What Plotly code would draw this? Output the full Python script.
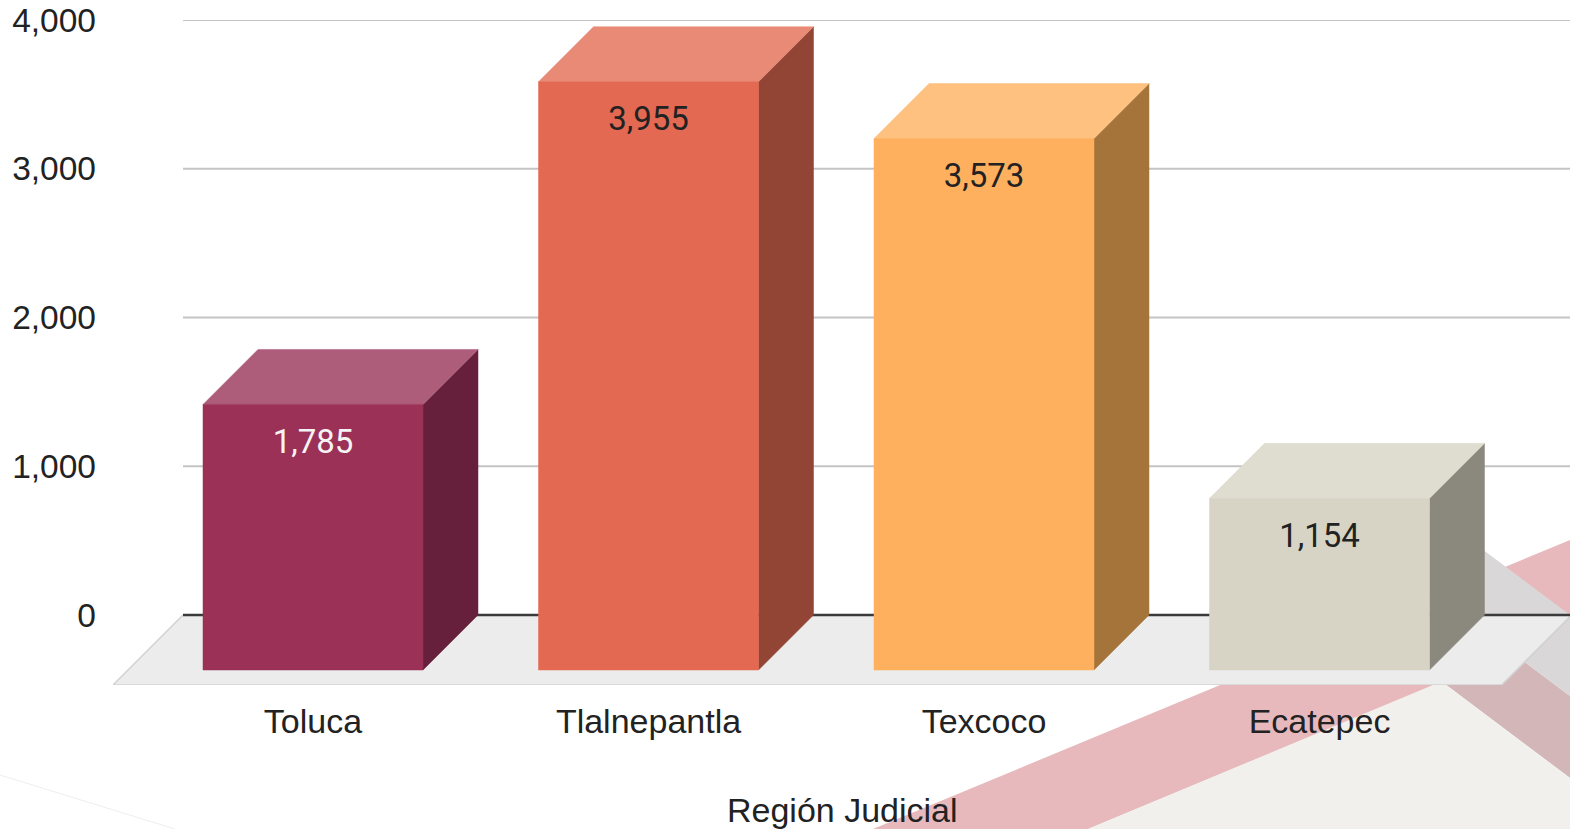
import plotly.graph_objects as go

# ---------------- data ----------------
categories = ["Toluca", "Tlalnepantla", "Texcoco", "Ecatepec"]
values = [1785, 3955, 3573, 1154]
y_ticks = [0, 1000, 2000, 3000, 4000]
axis_title = "Región Judicial"

# ---------------- styles ----------------
front_colors = ["#9b3157", "#e36952", "#feb05e", "#d7d4c6"]
top_colors = ["#ad5c79", "#e98a76", "#fec17f", "#dfdcd0"]
side_colors = ["#66203b", "#924535", "#a5743a", "#8b897e"]
label_colors = ["#f4f4f4", "#222222", "#222222", "#222222"]

W, H = 1570, 829
PLOT_L, PLOT_R, PLOT_T, PLOT_B = 113, 1570, 20, 685
ZERO_PX = 615
CAT_STEP_PX = 335.5
CAT0_PX = 368           # back-face centre of first category
BAR_HALF_PX = 110
BAR_DEPTH_PX = 55
FLOOR_DEPTH_PX = 70
LABEL_DROP_PX = 40

ky = (ZERO_PX - PLOT_T) / max(y_ticks)        # px per data unit
y_min = -(PLOT_B - ZERO_PX) / ky
y_max = max(y_ticks)
x_min = (PLOT_L - CAT0_PX) / CAT_STEP_PX
x_max = (PLOT_R - CAT0_PX) / CAT_STEP_PX

hw = BAR_HALF_PX / CAT_STEP_PX
dx = -BAR_DEPTH_PX / CAT_STEP_PX
dy = BAR_DEPTH_PX / ky
fdx = -FLOOR_DEPTH_PX / CAT_STEP_PX
fdy = FLOOR_DEPTH_PX / ky
floor_x0 = x_min - fdx          # back-left corner of floor
floor_x1 = x_max + 0.005

fig = go.Figure()

# --- decorative background (slide design) in paper coords ---
def P(pts):
    path = ""
    for i, (px, py) in enumerate(pts):
        path += ("M" if i == 0 else "L") + f"{px / W:.5f},{1 - py / H:.5f} "
    return path + "Z"

deco = [
    ([(873, 829), (1570, 540), (1570, 629), (1088, 829)], "#e7b9bd"),
    ([(1352, 614), (1391, 562), (1570, 696), (1570, 778)], "#d3b6b8"),
    ([(1391, 562), (1430, 510), (1570, 615), (1570, 696)], "#d9d7d7"),
    ([(1088, 829), (1433, 685), (1446, 685), (1570, 778), (1570, 829)], "#f2f0ec"),
]
shapes = []
for pts, col in deco:
    shapes.append(dict(type="path", path=P(pts), xref="paper", yref="paper",
                       fillcolor=col, line=dict(width=0), layer="below"))
shapes.append(dict(type="line", xref="paper", yref="paper", x0=0, y0=1 - 775 / H,
                   x1=175 / W, y1=0, line=dict(color="#eeeeee", width=1), layer="below"))

# --- gridlines ---
for t in y_ticks[1:]:
    fig.add_trace(go.Scatter(x=[floor_x0, x_max], y=[t, t], mode="lines",
                             line=dict(color="#c4c4c4", width=2), hoverinfo="skip"))

# --- floor ---
fig.add_trace(go.Scatter(
    x=[floor_x0, floor_x1, floor_x1 + fdx, floor_x0 + fdx, floor_x0],
    y=[0, 0, -fdy, -fdy, 0], mode="lines", fill="toself",
    fillcolor="#ececec", line=dict(color="#d2d2d2", width=1.5), hoverinfo="skip"))

# --- zero line ---
fig.add_trace(go.Scatter(x=[floor_x0, x_max], y=[0, 0], mode="lines",
                         line=dict(color="#3a3a3a", width=2.5), hoverinfo="skip"))

# --- 3D bars ---
for i, v in enumerate(values):
    c = i
    # side face
    fig.add_trace(go.Scatter(
        x=[c + hw, c + hw, c + hw + dx, c + hw + dx, c + hw],
        y=[v, 0, -dy, v - dy, v], mode="lines", fill="toself",
        fillcolor=side_colors[i], line=dict(color=side_colors[i], width=0.5),
        hoverinfo="skip"))
    # top face
    fig.add_trace(go.Scatter(
        x=[c - hw, c + hw, c + hw + dx, c - hw + dx, c - hw],
        y=[v, v, v - dy, v - dy, v], mode="lines", fill="toself",
        fillcolor=top_colors[i], line=dict(color=top_colors[i], width=0.5),
        hoverinfo="skip"))
    # front face
    fig.add_trace(go.Scatter(
        x=[c - hw + dx, c + hw + dx, c + hw + dx, c - hw + dx, c - hw + dx],
        y=[v - dy, v - dy, -dy, -dy, v - dy], mode="lines", fill="toself",
        fillcolor=front_colors[i], line=dict(color=front_colors[i], width=0.5),
        hoverinfo="skip"))

# --- value labels ---
fig.add_trace(go.Scatter(
    x=[i + dx for i in range(len(values))],
    y=[v - dy - LABEL_DROP_PX / ky for v in values],
    mode="text", text=[f"{v:,}" for v in values],
    textposition="middle center",
    textfont=dict(family="Roboto", size=33, color=label_colors),
    hoverinfo="skip"))

fig.update_layout(
    width=W, height=H,
    margin=dict(l=0, r=0, t=0, b=0),
    paper_bgcolor="white", plot_bgcolor="rgba(0,0,0,0)",
    showlegend=False,
    shapes=shapes,
    font=dict(family="Liberation Sans, Arial", color="#222222"),
    xaxis=dict(domain=[PLOT_L / W, 1], range=[x_min, x_max],
               tickvals=[i + dx for i in range(len(categories))], ticktext=categories,
               showgrid=False, zeroline=False, showline=False, ticks="",
               tickfont=dict(size=34, family="Liberation Sans, Arial", color="#222222"),
               ticklabelstandoff=13, automargin=False, fixedrange=True),
    yaxis=dict(domain=[1 - PLOT_B / H, 1 - PLOT_T / H], range=[y_min, y_max],
               tickvals=y_ticks, tickformat=",",
               showgrid=False, zeroline=False, showline=False, ticks="",
               tickfont=dict(size=33.5, family="Liberation Sans, Arial", color="#222222"),
               ticklabelstandoff=16, automargin=False, fixedrange=True),
    annotations=[dict(text=axis_title, xref="paper", yref="paper",
                      x=842 / W, y=1 - 810 / H, xanchor="center", yanchor="middle",
                      showarrow=False,
                      font=dict(size=34, family="Liberation Sans, Arial", color="#222222"))],
)

fig.write_html("out.html", config={"displayModeBar": False},
               post_script="document.body.style.margin='0';document.body.style.overflow='hidden';")
